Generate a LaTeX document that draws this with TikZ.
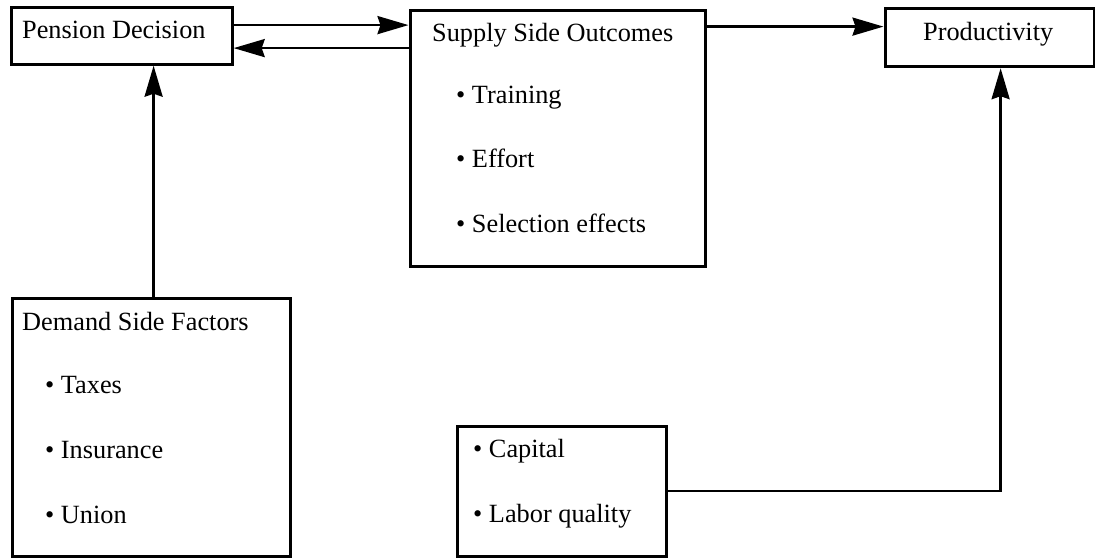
\documentclass[tikz,border=0pt]{standalone}
\usepackage{fontspec}
\setmainfont{Liberation Serif}
\usetikzlibrary{arrows.meta}
\begin{document}
\begin{tikzpicture}[x=1pt,y=-1pt,
  box/.style={draw=black, line width=3.2pt, inner sep=0pt, anchor=north west, fill=none},
  txt/.style={anchor=base west, inner sep=0pt, font=\fontsize{26.3}{31}\selectfont},
  arr/.style={line width=2.6pt, -{Stealth[length=31pt,width=18pt,inset=3pt]}},
  conn/.style={line width=2.6pt}]
\useasboundingbox (0,0) rectangle (1095,557);
% boxes
\node[box, minimum width=221pt, minimum height=57pt] (pd) at (9.5,5.5) {};
\node[box, minimum width=295pt, minimum height=256pt] (ss) at (408.5,9) {};
\node[box, minimum width=209pt, minimum height=58pt] (prod) at (883.5,7) {};
\node[box, minimum width=278pt, minimum height=258pt] (dem) at (10.5,296.5) {};
\node[box, minimum width=209pt, minimum height=130pt] (cap) at (455.5,424.5) {};
% texts
\node[txt] (pdt) at (22,38) {Pension Decision};
\node[txt] (sst) at (432,41) {Supply Side Outcomes};
\node[txt] (ss1) at (456,103) {\textbullet\ Training};
\node[txt] (ss2) at (456,167) {\textbullet\ Effort};
\node[txt] (ss3) at (456,232) {\textbullet\ Selection effects};
\node[txt] (prt) at (923,40) {Productivity};
\node[txt] (demt) at (22,330) {Demand Side Factors};
\node[txt] (dem1) at (45,393) {\textbullet\ Taxes};
\node[txt] (dem2) at (45,458) {\textbullet\ Insurance};
\node[txt] (dem3) at (45,523) {\textbullet\ Union};
\node[txt] (cap1) at (473,457) {\textbullet\ Capital};
\node[txt] (cap2) at (473,522) {\textbullet\ Labor quality};
% connectors
\draw[arr] ([yshift=10.5pt]pd.east) -- ([yshift=10.5pt]pd.east -| ss.west);
\draw[arr] ([yshift=-12.5pt]pd.east -| ss.west) -- ([yshift=-12.5pt]pd.east);
\draw[arr] ([yshift=11pt]prod.west -| ss.east) -- ([yshift=11pt]prod.west);
\draw[arr] ([xshift=2.5pt]dem.north) -- ([xshift=2.5pt]dem.north |- pd.south);
\draw[arr] (cap.east) -| ([xshift=11pt]prod.south);
\end{tikzpicture}
\end{document}
